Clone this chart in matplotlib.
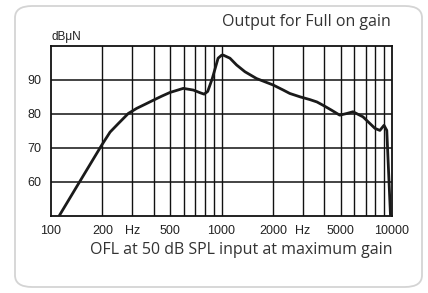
import matplotlib
matplotlib.use("Agg")
import matplotlib.pyplot as plt
from matplotlib.patches import FancyBboxPatch
from matplotlib.ticker import FixedLocator, NullLocator, NullFormatter

freq = [112, 145, 198, 222, 248, 284, 318, 356, 398, 446, 499, 597, 684, 750,
        791, 830, 883, 955, 1003, 1025, 1121, 1226, 1373, 1606, 2008, 2304,
        2515, 2891, 3294, 3627, 3946, 4410, 4937, 5440, 5907, 6760, 7946,
        8490, 8978, 9320, 9800]
level = [50.0, 59.4, 70.7, 74.6, 77.1, 80.1, 81.6, 82.8, 84.0, 85.2, 86.3, 87.5,
         87.0, 86.2, 85.8, 86.6, 90.4, 96.4, 97.3, 97.3, 96.4, 94.4, 92.4, 90.4,
         88.5, 87.0, 86.0, 85.0, 84.2, 83.5, 82.5, 81.1, 79.6, 80.1, 80.6, 79.1,
         75.7, 75.1, 76.6, 75.1, 50.0]

x_ticks = [100, 200, 300, 500, 1000, 2000, 3000, 5000, 10000]
x_labels = ["100", "200", "Hz", "500", "1000", "2000", "Hz", "5000", "10000"]
y_ticks = [60, 70, 80, 90]
y_labels = ["60", "70", "80", "90"]
grid_x = [200, 300, 400, 500, 600, 700, 800, 900, 1000,
          2000, 3000, 4000, 5000, 6000, 7000, 8000, 9000]
grid_y = [60, 70, 80, 90]

W, H = 428, 293
fig = plt.figure(figsize=(W / 100, H / 100), dpi=100)
fig.patch.set_facecolor("white")

box = FancyBboxPatch((15 / W, 6 / H), (422 - 15) / W, (287 - 6) / H,
                     boxstyle="round,pad=0,rounding_size=0.04",
                     transform=fig.transFigure, facecolor="none",
                     edgecolor="#d4d4d4", linewidth=1.3, zorder=-5)
fig.patches.append(box)

ax = fig.add_axes([51 / W, (H - 215.5) / H, (392 - 51) / W, (215.5 - 46) / H])
ax.set_zorder(2)
ax.set_xscale("log")
ax.set_xlim(100, 10000)
ax.set_ylim(50, 100)

for g in grid_x:
    ax.axvline(g, color="#111111", lw=1.0, zorder=1)
for g in grid_y:
    ax.axhline(g, color="#111111", lw=1.1, zorder=1)

ax.plot(freq, level, color="#1a1a1a", lw=2.0, zorder=3, solid_capstyle="round",
        solid_joinstyle="round")

for s in ax.spines.values():
    s.set_linewidth(1.3)
    s.set_color("#111111")

tick_font = ["Liberation Sans Narrow", "Liberation Sans", "DejaVu Sans"]
ax.xaxis.set_major_locator(FixedLocator(x_ticks))
ax.xaxis.set_minor_locator(NullLocator())
ax.xaxis.set_minor_formatter(NullFormatter())
ax.set_xticks(x_ticks)
ax.set_xticklabels(x_labels, family=tick_font, fontsize=9)
ax.set_yticks(y_ticks)
ax.set_yticklabels(y_labels, family=tick_font, fontsize=9)
ax.tick_params(axis="both", length=0, pad=7, colors="#222222")

fig.text(52 / W, 1 - 37 / H, "dBμN", family=tick_font, fontsize=8.5,
         ha="left", va="center", color="#222222")
fig.text(391 / W, 1 - 22 / H, "Output for Full on gain", family=["Open Sans", "DejaVu Sans"],
         fontsize=11.5, ha="right", va="center", color="#333333")
fig.text(393 / W, 1 - 250 / H, "OFL at 50 dB SPL input at maximum gain",
         family=["Open Sans", "DejaVu Sans"], fontsize=11.5, ha="right", va="center",
         color="#333333")

fig.savefig("out.png", dpi=100, facecolor="white")
